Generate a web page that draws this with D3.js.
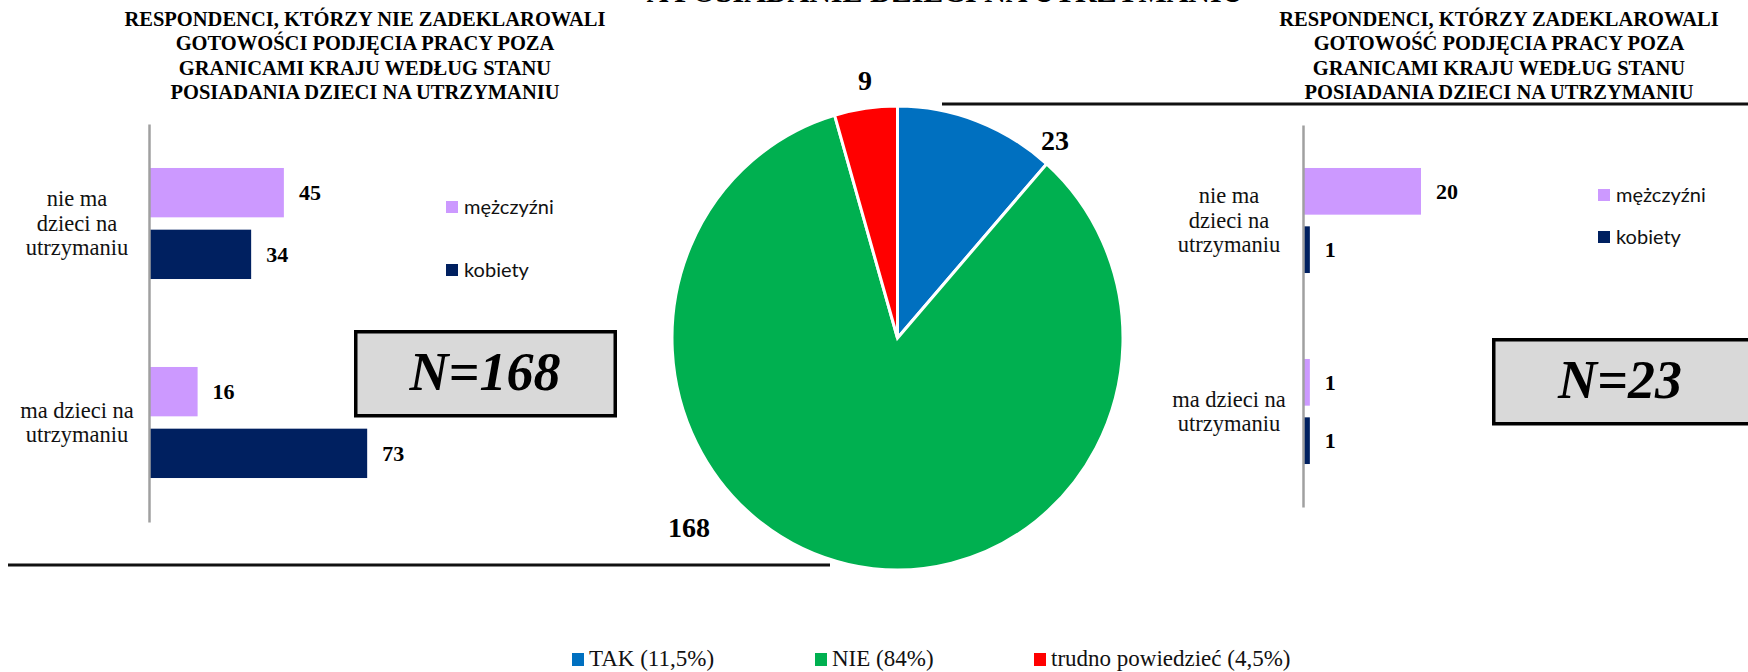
<!DOCTYPE html>
<html><head><meta charset="utf-8">
<script src="https://cdn.jsdelivr.net/npm/d3@7"></script>
<style>body{margin:0;background:#fff;} svg{display:block;}</style>
</head><body>
<script>
// ---------- DATA ----------
const pieCategories = ["TAK (11,5%)", "NIE (84%)", "trudno powiedzieć (4,5%)"];
const pieValues = [23, 168, 9];
const pieColors = ["#0070C0", "#00B050", "#FF0000"];

const barSeries = ["mężczyźni", "kobiety"];
const barColors = ["#CC99FF", "#002060"];
const barCategories = ["nie ma dzieci na utrzymaniu", "ma dzieci na utrzymaniu"];
const barCategoryLines = [["nie ma", "dzieci na", "utrzymaniu"], ["ma dzieci na", "utrzymaniu"]];

const leftMen = [45, 16];
const leftWomen = [34, 73];
const rightMen = [20, 1];
const rightWomen = [1, 1];

const topTitle = "A POSIADANIE DZIECI NA UTRZYMANIU";
const leftTitle = ["RESPONDENCI, KTÓRZY NIE ZADEKLAROWALI", "GOTOWOŚCI PODJĘCIA PRACY POZA", "GRANICAMI KRAJU WEDŁUG STANU", "POSIADANIA DZIECI NA UTRZYMANIU"];
const rightTitle = ["RESPONDENCI, KTÓRZY ZADEKLAROWALI", "GOTOWOŚĆ PODJĘCIA PRACY POZA", "GRANICAMI KRAJU WEDŁUG STANU", "POSIADANIA DZIECI NA UTRZYMANIU"];
const leftN = "N=168";
const rightN = "N=23";

// ---------- LAYOUT ----------
const W = 1748, H = 672;
const serif = "'Liberation Serif', 'Times New Roman', serif";
const sans = "Lato, 'Liberation Sans', sans-serif";

const svg = d3.select("body").append("svg").attr("width", W).attr("height", H);

// top (cut-off) title
svg.append("text").attr("x", 945).attr("y", 2).attr("text-anchor", "middle")
  .attr("font-family", serif).attr("font-weight", "bold").attr("font-size", 30).text(topTitle);

function title(lines, cx) {
  const t = svg.append("text").attr("text-anchor", "middle").attr("font-family", serif)
    .attr("font-weight", "bold").attr("font-size", 20.5).attr("fill", "#000");
  lines.forEach((l, i) => t.append("tspan").attr("x", cx).attr("y", 26 + i * 24.4).text(l));
}
title(leftTitle, 365);
title(rightTitle, 1499);

// separator lines
svg.append("line").attr("x1", 8).attr("x2", 830).attr("y1", 565).attr("y2", 565)
  .attr("stroke", "#111").attr("stroke-width", 3);
svg.append("line").attr("x1", 942).attr("x2", W).attr("y1", 104).attr("y2", 104)
  .attr("stroke", "#111").attr("stroke-width", 3);

// ---------- BAR CHARTS ----------
function barChart(cfg) {
  const y0 = d3.scaleBand().domain(barCategories).range(cfg.yRange)
    .paddingInner(cfg.pad).paddingOuter(cfg.pad / 2);
  const y1 = d3.scaleBand().domain(barSeries).range([0, y0.bandwidth()]).paddingInner(0.2).paddingOuter(0);
  const x = d3.scaleLinear().domain(cfg.xDomain).range(cfg.xRange);
  const g = svg.append("g");
  const rows = [];
  barCategories.forEach((c, ci) => {
    barSeries.forEach((s, si) => rows.push({c, ci, s, si, v: cfg.values[si][ci]}));
  });
  g.selectAll("rect.bar").data(rows).join("rect").attr("class", "bar")
    .attr("x", x(0)).attr("y", d => y0(d.c) + y1(d.s))
    .attr("width", d => x(d.v) - x(0)).attr("height", y1.bandwidth())
    .attr("fill", d => barColors[d.si]);
  g.selectAll("text.val").data(rows).join("text").attr("class", "val")
    .attr("x", d => x(d.v) + 15).attr("y", d => y0(d.c) + y1(d.s) + y1.bandwidth() / 2)
    .attr("dy", "0.35em").attr("font-family", serif).attr("font-weight", "bold")
    .attr("font-size", 22).text(d => d.v);
  // axis
  const ax = d3.axisLeft(y0).tickSize(0).tickFormat("");
  const axG = g.append("g").attr("transform", `translate(${x(0) - 1},0)`).call(ax);
  axG.select(".domain").attr("stroke", "#A0A0A0").attr("stroke-width", 2.5);
  // category labels
  barCategories.forEach((c, ci) => {
    const lines = barCategoryLines[ci];
    const cy = y0(c) + y0.bandwidth() / 2;
    const t = g.append("text").attr("text-anchor", "middle").attr("font-family", serif)
      .attr("font-size", 22.5).attr("fill", "#111");
    lines.forEach((l, i) => t.append("tspan").attr("x", cfg.labelX)
      .attr("y", cy + (i - (lines.length - 1) / 2) * 24.5).attr("dy", "0.33em").text(l));
  });
  // legend
  barSeries.forEach((s, i) => {
    const ly = cfg.legendY[i];
    g.append("rect").attr("x", cfg.legendX).attr("y", ly - 6).attr("width", 12).attr("height", 12)
      .attr("fill", barColors[i]);
    g.append("text").attr("x", cfg.legendX + 18).attr("y", ly).attr("dy", "0.35em")
      .attr("font-family", sans).attr("font-size", 20).attr("fill", "#111").text(s);
  });
  // N box
  const b = cfg.box;
  g.append("rect").attr("x", b[0]).attr("y", b[1]).attr("width", b[2]).attr("height", b[3])
    .attr("fill", "#D9D9D9").attr("stroke", "#000").attr("stroke-width", 3.5);
  g.append("text").attr("x", cfg.nX).attr("y", cfg.nY).attr("text-anchor", "middle")
    .attr("font-family", serif).attr("font-weight", "bold").attr("font-style", "italic")
    .attr("font-size", 54).text(cfg.nText);
}

barChart({
  yRange: [124, 522], pad: 0.442, xDomain: [0, 80], xRange: [150, 388],
  values: [leftMen, leftWomen], labelX: 77, legendX: 446, legendY: [207, 270],
  box: [355.75, 331.75, 259.5, 84], nX: 485, nY: 390, nText: leftN
});
barChart({
  yRange: [125, 507], pad: 0.45, xDomain: [0, 20], xRange: [1304, 1421],
  values: [rightMen, rightWomen], labelX: 1229, legendX: 1598, legendY: [195, 237],
  box: [1493.75, 339.75, 270, 84], nX: 1620, nY: 398, nText: rightN
});

// ---------- PIE ----------
const cx = 897.5, cy = 338, r = 225.5;
const pie = d3.pie().sort(null).value(d => d)(pieValues);
const arc = d3.arc().innerRadius(0).outerRadius(r);
const pg = svg.append("g").attr("transform", `translate(${cx},${cy}) scale(1,1.029)`);
pg.selectAll("path").data(pie).join("path").attr("d", arc)
  .attr("fill", (d, i) => pieColors[i]).attr("stroke", "#fff").attr("stroke-width", 3)
  .attr("stroke-linejoin", "miter");

// pie value labels (Excel "best fit" positions)
const pieLabelPos = [[1055, 140], [689, 527], [865, 80]];
svg.selectAll("text.pl").data(pie).join("text").attr("class", "pl")
  .attr("x", (d, i) => pieLabelPos[i][0]).attr("y", (d, i) => pieLabelPos[i][1])
  .attr("dy", "0.35em").attr("text-anchor", "middle").attr("font-family", serif)
  .attr("font-weight", "bold").attr("font-size", 28).text(d => d.data);

// pie legend
const legX = [572, 815, 1034];
pieCategories.forEach((c, i) => {
  svg.append("rect").attr("x", legX[i]).attr("y", 653).attr("width", 12).attr("height", 13)
    .attr("fill", pieColors[i]);
  svg.append("text").attr("x", legX[i] + 17).attr("y", 666)
    .attr("font-family", serif).attr("font-size", 23).attr("fill", "#111").text(c);
});
</script>
</body></html>
